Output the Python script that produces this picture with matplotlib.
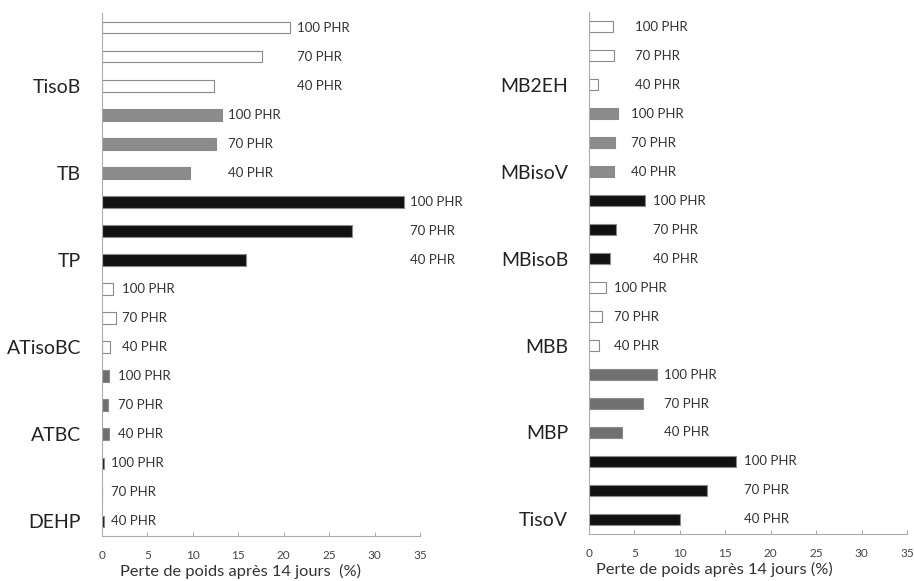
import numpy as np
import matplotlib.pyplot as plt

plt.rcParams['font.family'] = ['Lato', 'DejaVu Sans']

# Données (perte de poids en %, de haut en bas : 100, 70, 40 PHR par plastifiant)
doses = ['100 PHR', '70 PHR', '40 PHR']

gauche_noms = ['TisoB', 'TB', 'TP', 'ATisoBC', 'ATBC', 'DEHP']
gauche_vals = [
    [20.7, 17.6, 12.3],
    [13.2, 12.5, 9.7],
    [33.2, 27.5, 15.9],
    [1.2, 1.5, 0.9],
    [0.8, 0.7, 0.8],
    [0.2, 0.05, 0.2],
]

droite_noms = ['MB2EH', 'MBisoV', 'MBisoB', 'MBB', 'MBP', 'TisoV']
droite_vals = [
    [2.6, 2.8, 1.0],
    [3.2, 2.9, 2.8],
    [6.2, 3.0, 2.3],
    [1.9, 1.4, 1.1],
    [7.5, 5.9, 3.6],
    [16.2, 13.0, 10.0],
]

# Style
couleurs_g = ['white', '#8c8c8c', '#111111', 'white', '#6f6f6f', '#111111']
couleurs_d = ['white', '#8c8c8c', '#111111', 'white', '#707070', '#111111']
decal_g = [0.8, 0.7, 0.7, 0.7, 1.0, 0.8]
decal_d = [2.3, 1.4, 0.8, 0.9, 0.7, 0.9]


def panneau(ax, noms, vals, couleurs, decal, xlabel, xlab_pos):
    pos = 0
    ypos_noms = []
    for i, nom in enumerate(noms):
        for j, v in enumerate(vals[i]):
            ax.barh(pos, v, height=0.4, color=couleurs[i],
                    edgecolor='#8a8a8a', linewidth=0.8)
            ax.text(max(vals[i]) + decal[i], pos, doses[j], va='center',
                    ha='left', fontsize=9.5, color='#333333')
            pos += 1
        ypos_noms.append(pos - 1)
    ax.set_ylim(pos - 0.5, -0.5)
    ax.set_xlim(0, 35)
    ax.set_xticks(np.arange(0, 36, 5))
    ax.set_yticks(ypos_noms)
    ax.set_yticklabels(noms, fontsize=14, color='#222222')
    ax.tick_params(axis='y', length=0, pad=15)
    ax.tick_params(axis='x', direction='in', length=3, width=0.6,
                   color='#999999', pad=10, labelsize=8.5, labelcolor='#444444')
    for s in ['top', 'right']:
        ax.spines[s].set_visible(False)
    for s in ['left', 'bottom']:
        ax.spines[s].set_color('#aaaaaa')
        ax.spines[s].set_linewidth(0.8)
    ax.set_xlabel(xlabel, fontsize=11.8, color='#333333', va='center')
    ax.xaxis.set_label_coords(xlab_pos, -0.068)


fig = plt.figure(figsize=(9.14, 5.81), dpi=100)
ax1 = fig.add_axes([0.1116, 0.0775, 0.348, 0.900])
ax2 = fig.add_axes([0.6444, 0.081, 0.348, 0.898])

panneau(ax1, gauche_noms, gauche_vals, couleurs_g, decal_g,
        'Perte de poids après 14 jours  (%)', 0.434)
panneau(ax2, droite_noms, droite_vals, couleurs_d, decal_d,
        'Perte de poids après 14 jours (%)', 0.393)

fig.savefig('out.png', dpi=100)
